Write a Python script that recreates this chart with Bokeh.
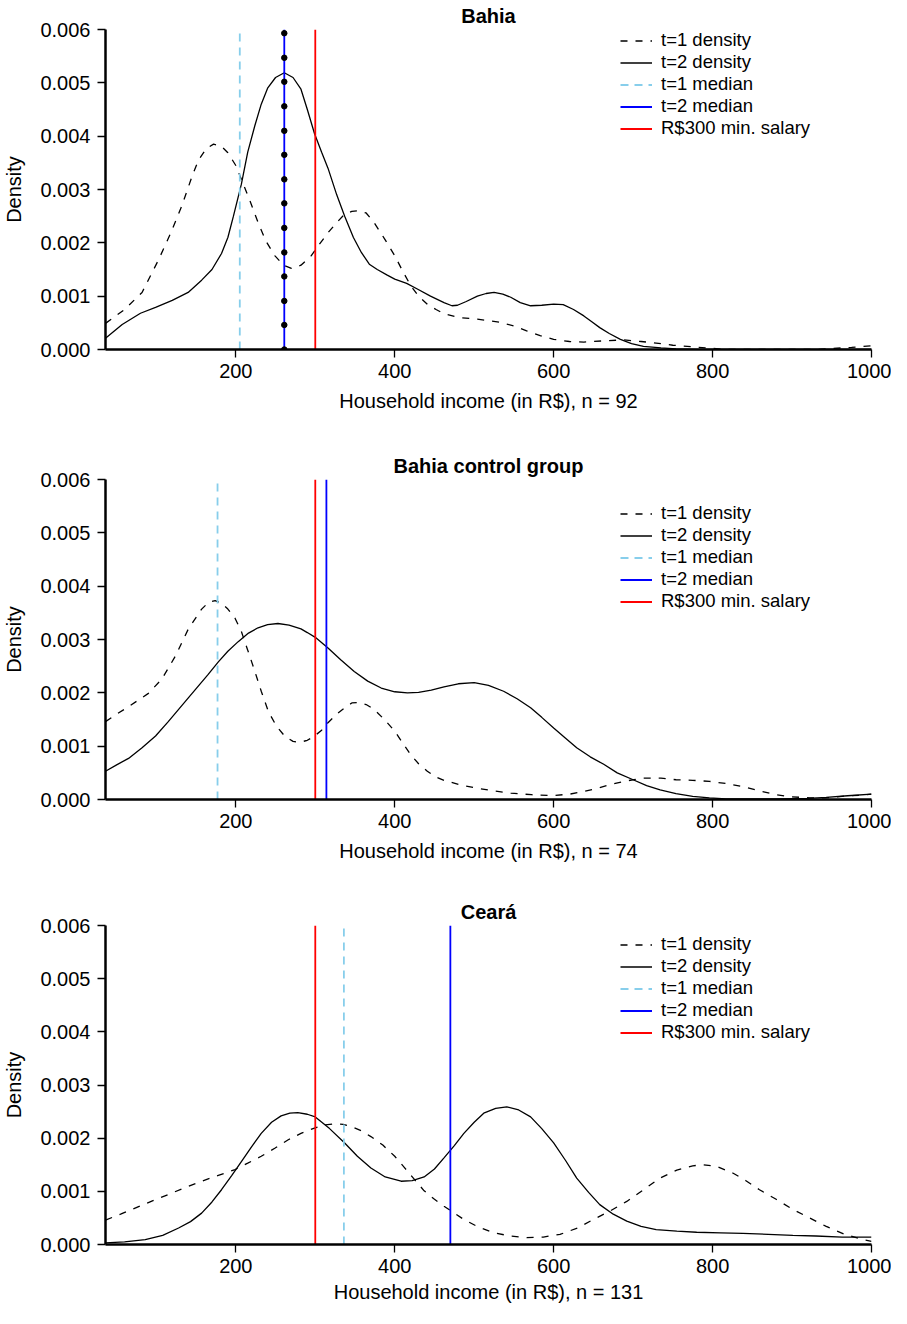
from bokeh.plotting import figure
from bokeh.layouts import column
from bokeh.models import (FixedTicker, PrintfTickFormatter, Legend, LegendItem, Range1d)
from bokeh.embed import file_html
from bokeh.resources import INLINE

# ---------------- data ----------------
x_ticks = [200, 400, 600, 800, 1000]
y_ticks = [0.000, 0.001, 0.002, 0.003, 0.004, 0.005, 0.006]
x_start, x_end = 36, 1000
y_start, y_end = 0.0, 0.006
min_salary = 300

titles = ["Bahia", "Bahia control group", "Ceará"]
sample_sizes = [92, 74, 131]
legend_labels = ["t=1 density", "t=2 density", "t=1 median", "t=2 median", "R$300 min. salary"]

# Bahia
bahia_t1_x = [36, 60, 82, 103, 118, 132, 145, 153, 163, 172, 182, 190, 200, 207, 218, 228, 238, 249, 260, 270,
              282, 295, 305, 316, 327, 337, 346, 354, 364, 374, 387, 400, 410, 420, 430, 441, 452, 462, 480, 504,
              533, 550, 566, 583, 600, 620, 638, 660, 688, 710, 729, 750, 775, 800, 817, 880, 930, 951, 975, 1000]
bahia_t1_y = [0.00049, 0.00075, 0.00107, 0.00169, 0.00218, 0.00269, 0.00325, 0.00355, 0.00377, 0.00385, 0.00381,
              0.00369, 0.00345, 0.00319, 0.00278, 0.00238, 0.00203, 0.00176, 0.00158, 0.00152, 0.00158, 0.00176,
              0.00197, 0.00219, 0.00238, 0.00254, 0.00259, 0.00260, 0.00256, 0.00238, 0.00208, 0.00176, 0.00147,
              0.00120, 0.00100, 0.00085, 0.00075, 0.00067, 0.00060, 0.00057, 0.00051, 0.00044, 0.00035, 0.00026,
              0.00019, 0.00015, 0.00014, 0.00016, 0.00018, 0.00015, 0.00012, 0.00008, 0.00005, 0.00002, 0.0,
              0.0, 0.0, 0.00002, 0.00004, 0.00007]
bahia_t2_x = [36, 57, 80, 99, 120, 140, 157, 170, 182, 190, 197, 207, 215, 224, 232, 240, 250, 261, 272, 282,
              290, 299, 308, 316, 327, 337, 348, 358, 368, 378, 390, 400, 415, 429, 445, 462, 472, 479, 490, 504,
              515, 525, 536, 546, 558, 571, 585, 600, 612, 625, 638, 648, 658, 670, 684, 698, 713, 735, 754, 780,
              1000]
bahia_t2_y = [0.00021, 0.00047, 0.00068, 0.00079, 0.00092, 0.00107, 0.00130, 0.00150, 0.00180, 0.00210, 0.00250,
              0.00310, 0.00370, 0.00420, 0.00460, 0.00490, 0.00510, 0.00519, 0.00510, 0.00488, 0.00450, 0.00405,
              0.00370, 0.00340, 0.00290, 0.00250, 0.00210, 0.00182, 0.00160, 0.00150, 0.00140, 0.00132, 0.00124,
              0.00113, 0.00100, 0.00088, 0.00082, 0.00083, 0.00090, 0.00100, 0.00105, 0.00107, 0.00104, 0.00098,
              0.00088, 0.00082, 0.00083, 0.00085, 0.00084, 0.00075, 0.00063, 0.00052, 0.00041, 0.00030, 0.00019,
              0.00011, 0.00006, 0.00003, 0.00001, 0.0, 0.0]
bahia_median_t1 = 205
bahia_median_t2 = 261
bahia_median_points_y = [0.0, 0.00046, 0.00091, 0.00137, 0.00182, 0.00228, 0.00274, 0.00319, 0.00365,
                         0.00410, 0.00456, 0.00502, 0.00547, 0.00593]

# Bahia control group
control_t1_x = [36, 50, 65, 90, 107, 124, 140, 157, 166, 174, 182, 190, 199, 207, 215, 224, 232, 241, 251, 262,
                272, 280, 290, 299, 308, 316, 327, 337, 346, 354, 364, 374, 387, 400, 410, 420, 430, 441, 452, 462,
                483, 504, 525, 546, 572, 600, 620, 638, 655, 671, 692, 713, 735, 754, 775, 796, 817, 838, 860, 880,
                900, 922, 942, 963, 985, 1000]
control_t1_y = [0.00146, 0.00160, 0.00174, 0.00199, 0.00226, 0.00269, 0.00319, 0.00357, 0.00370, 0.00373, 0.00368,
                0.00357, 0.00340, 0.00315, 0.00280, 0.00240, 0.00203, 0.00165, 0.00138, 0.00118, 0.00109, 0.00107,
                0.00111, 0.00119, 0.00130, 0.00144, 0.00160, 0.00172, 0.00181, 0.00182, 0.00178, 0.00169, 0.00150,
                0.00128, 0.00106, 0.00084, 0.00067, 0.00053, 0.00042, 0.00036, 0.00027, 0.00021, 0.00016, 0.00012,
                0.00009, 0.000075, 0.00010, 0.00015, 0.00021, 0.00028, 0.00035, 0.00040, 0.00040, 0.00037, 0.00036,
                0.00034, 0.00030, 0.00024, 0.00016, 0.00009, 0.00005, 0.00003, 0.00003, 0.00006, 0.00008, 0.00010]
control_t2_x = [36, 50, 65, 82, 99, 115, 132, 149, 165, 178, 190, 203, 216, 228, 240, 253, 267, 282, 290, 300,
                316, 332, 349, 366, 383, 400, 416, 430, 446, 462, 480, 500, 518, 537, 554, 571, 585, 600, 615, 629,
                646, 663, 680, 700, 717, 734, 754, 775, 796, 817, 880, 920, 943, 970, 1000]
control_t2_y = [0.00053, 0.00065, 0.00077, 0.00097, 0.00119, 0.00146, 0.00176, 0.00206, 0.00234, 0.00258, 0.00278,
                0.00296, 0.00312, 0.00322, 0.00328, 0.00330, 0.00327, 0.00320, 0.00313, 0.00304, 0.00284, 0.00262,
                0.00240, 0.00222, 0.00209, 0.00202, 0.00200, 0.00201, 0.00205, 0.00211, 0.00217, 0.00219, 0.00214,
                0.00203, 0.00189, 0.00172, 0.00154, 0.00134, 0.00115, 0.00097, 0.00080, 0.00066, 0.00050, 0.00037,
                0.00026, 0.00018, 0.00011, 0.00006, 0.00003, 0.00001, 0.00001, 0.00002, 0.00004, 0.00007, 0.00010]
control_median_t1 = 177
control_median_t2 = 314

# Ceará
ceara_t1_x = [36, 55, 74, 95, 115, 136, 157, 178, 199, 215, 232, 249, 266, 282, 299, 312, 324, 335, 345, 358,
              370, 385, 400, 412, 425, 437, 450, 462, 475, 487, 505, 525, 545, 566, 587, 608, 630, 650, 671, 692,
              713, 734, 755, 775, 788, 805, 826, 842, 859, 880, 901, 922, 943, 965, 989, 1000]
ceara_t1_y = [0.00046, 0.00057, 0.00069, 0.00082, 0.00094, 0.00107, 0.00119, 0.00130, 0.00141, 0.00153, 0.00166,
              0.00181, 0.00197, 0.00209, 0.00219, 0.00225, 0.00227, 0.00226, 0.00222, 0.00214, 0.00203, 0.00187,
              0.00166, 0.00145, 0.00122, 0.00101, 0.00085, 0.00072, 0.00059, 0.00047, 0.00033, 0.00022, 0.00016,
              0.00013, 0.00014, 0.00019, 0.00031, 0.00047, 0.00063, 0.00081, 0.00103, 0.00125, 0.00140, 0.00148,
              0.00150, 0.00147, 0.00134, 0.00120, 0.00103, 0.00085, 0.00066, 0.00050, 0.00034, 0.00020, 0.00009,
              0.00006]
ceara_t2_x = [36, 60, 86, 108, 128, 143, 157, 170, 182, 195, 207, 220, 232, 245, 257, 268, 278, 290, 300, 318,
              337, 353, 370, 388, 408, 422, 437, 450, 462, 475, 487, 500, 512, 527, 541, 556, 571, 585, 600, 615,
              629, 644, 658, 675, 692, 710, 729, 755, 780, 810, 838, 870, 901, 930, 963, 1000]
ceara_t2_y = [0.00003, 0.00005, 0.00009, 0.00017, 0.00031, 0.00043, 0.00059, 0.00080, 0.00103, 0.00130, 0.00156,
              0.00184, 0.00209, 0.00230, 0.00242, 0.00247, 0.00248, 0.00245, 0.00240, 0.00218, 0.00191, 0.00166,
              0.00144, 0.00127, 0.00119, 0.00120, 0.00127, 0.00142, 0.00163, 0.00186, 0.00209, 0.00230, 0.00247,
              0.00256, 0.00259, 0.00253, 0.00240, 0.00218, 0.00191, 0.00158, 0.00125, 0.00098, 0.00075, 0.00057,
              0.00044, 0.00034, 0.00028, 0.00025, 0.00023, 0.00022, 0.00021, 0.00019, 0.00017, 0.00016, 0.00014,
              0.00014]
ceara_median_t1 = 336
ceara_median_t2 = 470

# ---------------- styling ----------------
FONT = "Liberation Sans"
MEDIAN1_COLOR = "#87CEEB"
MEDIAN2_COLOR = "#0000FF"
SALARY_COLOR = "#FF0000"


def make_panel(idx, t1x, t1y, t2x, t2y, med1, med2, height, border_top, border_bottom,
               legend_y, label_standoff, dots_y=None):
    p = figure(width=891, height=height, x_range=Range1d(x_start, x_end), y_range=Range1d(y_start, y_end),
               output_backend="svg", toolbar_location=None, title=titles[idx],
               min_border_left=102, min_border_right=20, min_border_top=border_top,
               min_border_bottom=border_bottom)
    p.outline_line_color = None
    p.grid.visible = False
    p.background_fill_color = "white"
    p.border_fill_color = "white"

    p.title.align = "center"
    p.title.text_font = FONT
    p.title.text_font_size = "20px"
    p.title.text_font_style = "bold"
    p.title.text_color = "black"
    p.title.standoff = 5

    for ax in (p.xaxis[0], p.yaxis[0]):
        ax.axis_line_width = 2.5
        ax.axis_line_color = "black"
        ax.major_tick_line_width = 1.3
        ax.major_tick_line_color = "black"
        ax.major_tick_out = 8
        ax.major_tick_in = 0
        ax.minor_tick_out = 0
        ax.minor_tick_in = 0
        ax.major_label_text_font = FONT
        ax.major_label_text_font_size = "20px"
        ax.major_label_text_color = "black"
        ax.axis_label_text_font = FONT
        ax.axis_label_text_font_size = "20px"
        ax.axis_label_text_font_style = "normal"
        ax.axis_label_text_color = "black"

    p.xaxis.ticker = FixedTicker(ticks=x_ticks)
    p.xaxis.major_label_standoff = 6
    p.xaxis.axis_label = "Household income (in R$), n = %d" % sample_sizes[idx]
    p.xaxis.axis_label_standoff = label_standoff

    p.yaxis.ticker = FixedTicker(ticks=y_ticks)
    p.yaxis.formatter = PrintfTickFormatter(format="%.3f")
    p.yaxis.major_label_standoff = 7
    p.yaxis.axis_label = "Density"
    p.yaxis.axis_label_standoff = 12

    r1 = p.line(t1x, t1y, line_color="black", line_width=1.3, line_dash="7 8")
    r2 = p.line(t2x, t2y, line_color="black", line_width=1.3)
    r3 = p.segment(x0=[med1], y0=[y_start], x1=[med1], y1=[y_end], line_color=MEDIAN1_COLOR,
                   line_width=1.8, line_dash="8 6")
    r5 = p.segment(x0=[min_salary], y0=[y_start], x1=[min_salary], y1=[y_end], line_color=SALARY_COLOR,
                   line_width=1.8)
    r4 = p.segment(x0=[med2], y0=[y_start], x1=[med2], y1=[y_end], line_color=MEDIAN2_COLOR,
                   line_width=1.8)
    if dots_y is not None:
        p.scatter([med2] * len(dots_y), dots_y, size=5.5, color="black")

    items = [LegendItem(label=lab, renderers=[r]) for lab, r in zip(legend_labels, [r1, r2, r3, r4, r5])]
    legend = Legend(items=items, location=(515, legend_y), padding=0, margin=0, spacing=0,
                    glyph_width=32, glyph_height=21, label_height=21, label_standoff=9,
                    label_text_font=FONT, label_text_font_size="18.5px", label_text_color="black",
                    border_line_color=None, background_fill_alpha=0)
    p.add_layout(legend)
    return p


p1 = make_panel(0, bahia_t1_x, bahia_t1_y, bahia_t2_x, bahia_t2_y, bahia_median_t1, bahia_median_t2,
                height=449, border_top=29, border_bottom=100, legend_y=210, label_standoff=9,
                dots_y=bahia_median_points_y)
p2 = make_panel(1, control_t1_x, control_t1_y, control_t2_x, control_t2_y, control_median_t1, control_median_t2,
                height=446, border_top=30, border_bottom=96, legend_y=187, label_standoff=9)
p3 = make_panel(2, ceara_t1_x, ceara_t1_y, ceara_t2_x, ceara_t2_y, ceara_median_t1, ceara_median_t2,
                height=413, border_top=30, border_bottom=64, legend_y=201, label_standoff=5)

layout = column(p1, p2, p3, spacing=0)
open("out.html", "w").write(file_html(layout, INLINE))
